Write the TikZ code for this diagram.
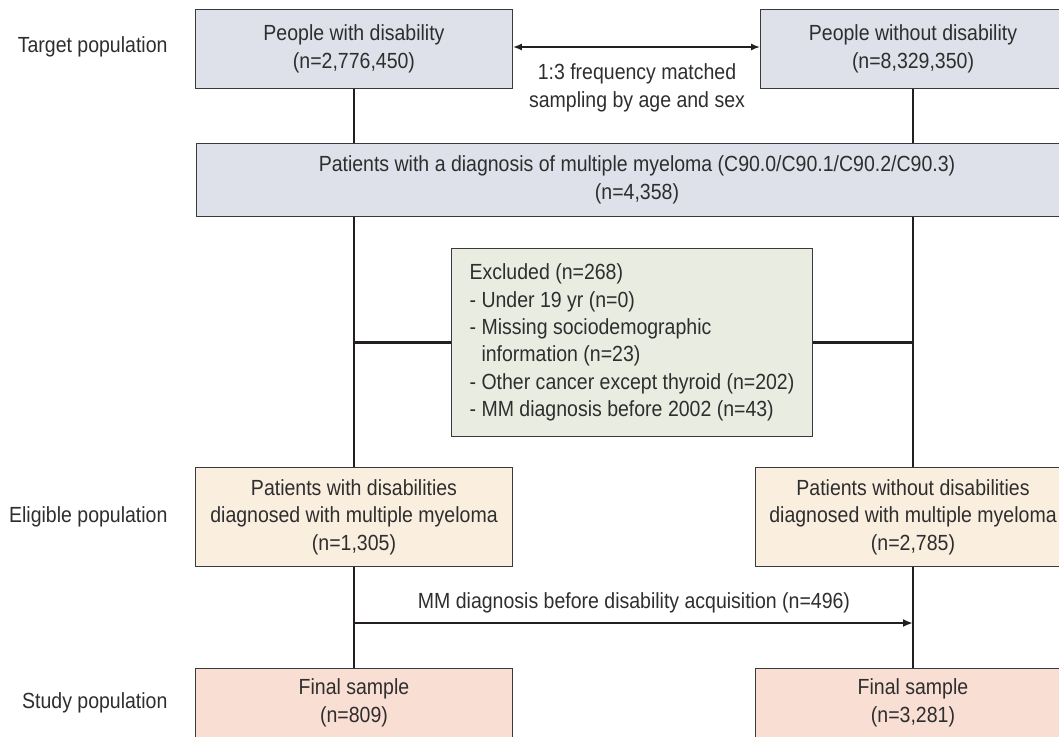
\documentclass[tikz,border=0pt]{standalone}
\usepackage{fontspec}
\setmainfont{Liberation Sans}[FakeStretch=0.89]
\usetikzlibrary{positioning,arrows.meta}

\definecolor{targetfill}{HTML}{DFE1EA}
\definecolor{exclfill}{HTML}{E9ECE1}
\definecolor{eligfill}{HTML}{FAEEDF}
\definecolor{finalfill}{HTML}{F9DFD3}
\definecolor{boxline}{HTML}{3A3A3A}
\definecolor{flowline}{HTML}{231F20}
\definecolor{textgray}{HTML}{2E2E2E}

\tikzset{
  box/.style={draw=boxline, line width=0.9pt, align=center, inner sep=0pt,
    font=\fontsize{22}{27.5}\selectfont, text=textgray},
  flow/.style={draw=flowline, line width=2.8pt},
  tip/.style={-{Latex[length=10pt,width=8pt]}},
  side/.style={anchor=east, font=\fontsize{22}{27.5}\selectfont, text=textgray},
  note/.style={align=center, font=\fontsize{22}{27.5}\selectfont, text=textgray}
}

\begin{document}
\begin{tikzpicture}[x=1bp, y=-1bp]
    \useasboundingbox (0,0) rectangle (1059,737);
    \clip (0,0) rectangle (1059,737);

    % side labels
    \node[side] (lbltarget) at (171,47) {Target population};
    \node[side] (lblelig) at (171,517) {Eligible population};
    \node[side] (lblstudy) at (171,703) {Study population};

    % target population
    \node[box, fill=targetfill, minimum width=318, minimum height=80] (pwd) at (354,49)
        {People with disability\\(n=2,776,450)};
    \node[box, fill=targetfill, minimum width=306, minimum height=80] (pwod) at (913,49)
        {People without disability\\(n=8,329,350)};
    \node[note] (match) at (637,88) {1:3 frequency matched\\sampling by age and sex};

    \node[box, fill=targetfill, minimum width=884, minimum height=73] (diag) at (637,180)
        {Patients with a diagnosis of multiple myeloma (C90.0/C90.1/C90.2/C90.3)\\(n=4,358)};

    \node[box, fill=exclfill, align=left, minimum width=362, minimum height=189] (excl) at (632,342.5)
        {Excluded (n=268)\\
         - Under 19 yr (n=0)\\
         - Missing sociodemographic\\
         \phantom{- }information (n=23)\\
         - Other cancer except thyroid (n=202)\\
         - MM diagnosis before 2002 (n=43)};

    % eligible population
    \node[box, fill=eligfill, minimum width=318, minimum height=100] (eligw) at (354,517)
        {Patients with disabilities\\diagnosed with multiple myeloma\\(n=1,305)};
    \node[box, fill=eligfill, minimum width=316, minimum height=100] (eligwo) at (913,517)
        {Patients without disabilities\\diagnosed with multiple myeloma\\(n=2,785)};

    % study population
    \node[box, fill=finalfill, minimum width=318, minimum height=100] (finalw) at (354,718) {};
    \node[box, fill=finalfill, minimum width=316, minimum height=100] (finalwo) at (913,718) {};
    \node[note] (finalwtxt) at (354,703) {Final sample\\(n=809)};
    \node[note] (finalwotxt) at (913,703) {Final sample\\(n=3,281)};

    % connectors
    \draw[flow, {Latex[length=9pt,width=7pt]}-{Latex[length=9pt,width=7pt]}, line width=2pt]
        (pwd.east |- 0,47) -- (pwod.west |- 0,47);
    \draw[flow] (pwd.south) -- (pwd.south |- diag.north);
    \draw[flow] (pwod.south) -- (pwod.south |- diag.north);
    \draw[flow] (eligw.north |- diag.south) -- (eligw.north);
    \draw[flow] (eligwo.north |- diag.south) -- (eligwo.north);
    \draw[flow] (eligw.north |- excl.west) -- (excl.west);
    \draw[flow] (excl.east) -- (eligwo.north |- excl.east);
    \draw[flow] (eligw.south) -- (finalw.north);
    \draw[flow] (eligwo.south) -- (finalwo.north);

    \coordinate (mmstart) at (354,623);
    \coordinate (mmend) at (913,623);
    \draw[flow, tip] (mmstart) -- (mmend);
    \node[note] (mmlbl) at (634,603) {MM diagnosis before disability acquisition (n=496)};
  \end{tikzpicture}
\end{document}
